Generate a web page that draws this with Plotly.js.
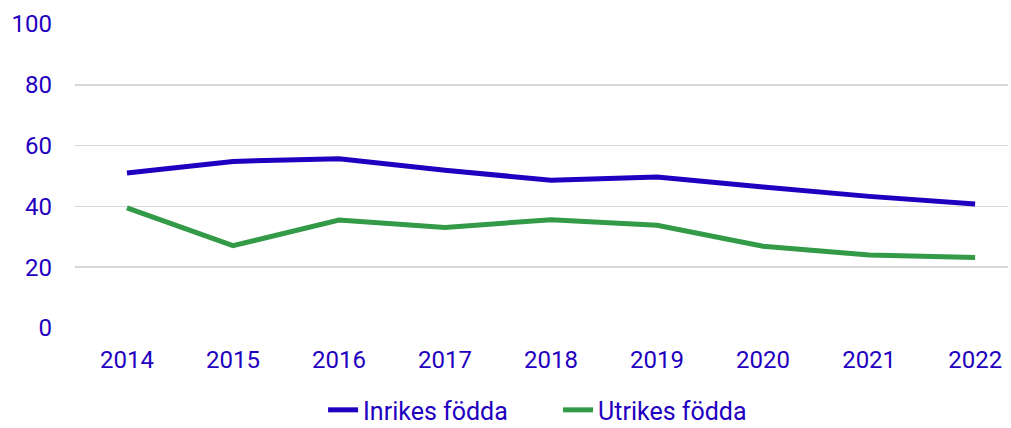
<!DOCTYPE html>
<html>
<head>
<meta charset="utf-8">
<script src="https://cdn.plot.ly/plotly-3.0.1.min.js"></script>
<style>html,body{margin:0;padding:0;background:#fff;}#chart{width:1011px;height:428px;}</style>
</head>
<body>
<div id="chart"></div>
<script>
const years = ['2014','2015','2016','2017','2018','2019','2020','2021','2022'];
const inrikes = [51.0, 54.8, 55.7, 51.9, 48.6, 49.7, 46.4, 43.3, 40.8];
const utrikes = [39.5, 27.1, 35.5, 33.1, 35.6, 33.8, 26.9, 24.0, 23.2];
const seriesNames = ['Inrikes födda', 'Utrikes födda'];
const textColor = '#1f00c0';

const traces = [
  {x: years, y: inrikes, name: seriesNames[0], type: 'scatter', mode: 'lines',
   line: {color: '#1f00c0', width: 5}},
  {x: years, y: utrikes, name: seriesNames[1], type: 'scatter', mode: 'lines',
   line: {color: '#339a47', width: 5}}
];

const layout = {
  width: 1011, height: 428,
  margin: {l: 75, r: 3, t: 24, b: 100, autoexpand: false},
  paper_bgcolor: '#fff', plot_bgcolor: '#fff',
  font: {family: 'Roboto, sans-serif', size: 24, color: textColor},
  showlegend: true,
  legend: {orientation: 'h', x: 0.552, xref: 'container', xanchor: 'center',
           y: -0.27, yref: 'paper', yanchor: 'middle', maxheight: 80,
           font: {size: 25, color: textColor}, entrywidth: 190, traceorder: 'normal'},
  xaxis: {type: 'category', range: [-0.49, 8.31], showgrid: false, zeroline: false,
          showline: false, ticks: '', ticklabelstandoff: 15, fixedrange: true, tickangle: 0},
  yaxis: {range: [0, 100], tickvals: [0, 20, 40, 60, 80, 100], showgrid: true,
          gridcolor: '#d9d9d9', gridwidth: 1.5, zeroline: false, showline: false,
          ticks: '', ticklabelstandoff: 22, fixedrange: true}
};

Plotly.newPlot('chart', traces, layout, {displayModeBar: false, staticPlot: true});
</script>
</body>
</html>
